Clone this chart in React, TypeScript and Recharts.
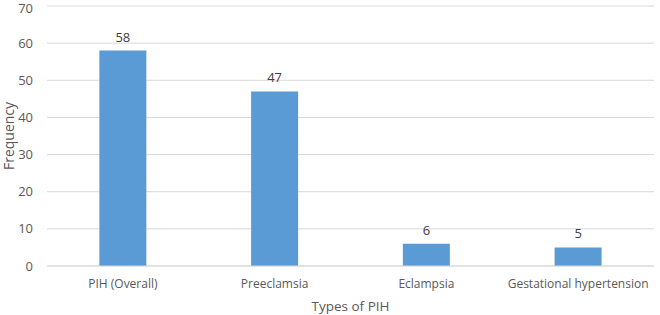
import React from 'react';
import { BarChart, Bar, XAxis, YAxis, CartesianGrid, LabelList, Label } from 'recharts';

const categories = ['PIH (Overall)', 'Preeclamsia', 'Eclampsia', 'Gestational hypertension'];
const frequencies = [58, 47, 6, 5];
const yTicks = [0, 10, 20, 30, 40, 50, 60, 70];

const data = categories.map((name, i) => ({ name, value: frequencies[i] }));

const FONT = '"Open Sans", "Noto Sans", sans-serif';

export default function App() {
  return (
    <div style={{ position: 'absolute', left: 0, top: 0, width: 660, height: 315, background: '#fff' }}>
      <BarChart
        width={660}
        height={315}
        data={data}
        margin={{ top: 6, right: 6, bottom: 0, left: 0 }}
        barCategoryGap="34.5%"
      >
        <CartesianGrid horizontal vertical={false} stroke="#d9d9d9" strokeWidth={1} />
        <XAxis
          dataKey="name"
          height={49}
          axisLine={{ stroke: '#d9d9d9' }}
          tickLine={false}
          tickMargin={7}
          tick={{ fill: '#595959', fontSize: 12, fontFamily: FONT }}
          interval={0}
        >
          <Label value="Types of PIH" position="insideBottom" offset={4} fill="#595959" fontSize={13.5} fontFamily={FONT} />
        </XAxis>
        <YAxis
          width={47}
          domain={[0, 70]}
          ticks={yTicks}
          axisLine={false}
          tickLine={false}
          tickMargin={8}
          tick={{ fill: '#595959', fontSize: 13, fontFamily: FONT }}
        >
          <Label value="Frequency" angle={-90} position="insideLeft" offset={9} fill="#595959" fontSize={14} fontFamily={FONT} style={{ textAnchor: 'middle' }} />
        </YAxis>
        <Bar dataKey="value" fill="#5b9bd5" isAnimationActive={false}>
          <LabelList dataKey="value" position="top" offset={9} fill="#404040" fontSize={13} fontFamily={FONT} />
        </Bar>
      </BarChart>
    </div>
  );
}
